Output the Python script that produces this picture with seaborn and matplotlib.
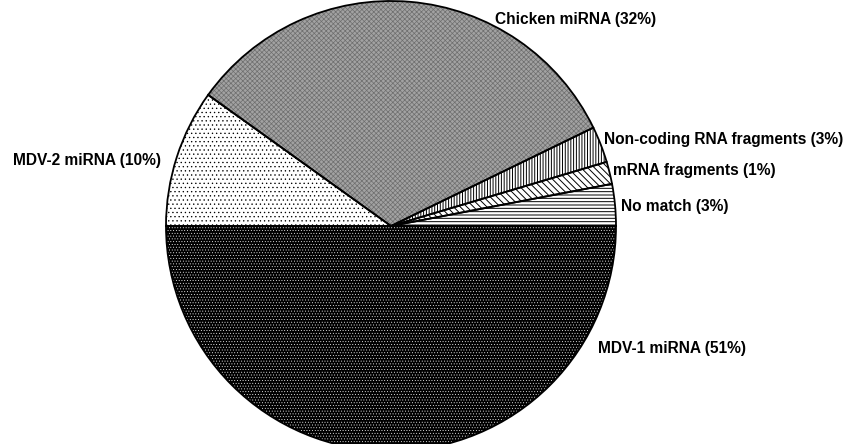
import numpy as np
import matplotlib
matplotlib.use("Agg")
import matplotlib.pyplot as plt
import seaborn as sns

# data (slice shares, counter-clockwise from 3 o'clock)
categories = ["No match", "mRNA fragments", "Non-coding RNA fragments",
              "Chicken miRNA", "MDV-2 miRNA", "MDV-1 miRNA"]
shares = [3.0, 1.6, 2.6, 32.9, 9.9, 50.0]
label_pct = [3, 1, 3, 32, 10, 51]

# styles for each slice
faces = ["white", "white", "white", "#a2a2a2", "white", "black"]
hatch_colors = ["black", "black", "black", "#6e6e6e", "black", "white"]
hatches = ["-----", "\\\\\\\\\\", "||||||", "xxxxxxx", "....", "......"]
hatch_lw = [0.7, 0.7, 0.7, 0.5, 0.45, 0.3]

# label positions in pixels (left edge, vertical centre)
label_px = [(621, 207), (613, 170), (604, 140), (495, 20), (13, 160), (598, 348)]

sns.set_theme(style="white")
plt.rcParams["font.family"] = ["Liberation Sans", "DejaVu Sans"]
plt.rcParams["hatch.linewidth"] = 0.7

W, H = 846, 444
cx, cy, R = 391, 226, 225

fig = plt.figure(figsize=(W / 100, H / 100), dpi=100)
ax = fig.add_axes([0, 0, 1, 1])

# filled + hatched wedges
wedges, _ = ax.pie(shares, startangle=0, counterclock=True, radius=1,
                   colors=faces, wedgeprops=dict(linewidth=0))
for w, hc, h, lw in zip(wedges, hatch_colors, hatches, hatch_lw):
    w.set_edgecolor(hc)
    w.set_hatch(h)
    w.set_linewidth(0)
    if hasattr(w, "set_hatch_linewidth"):
        w.set_hatch_linewidth(lw)

# outlines on top
ax.pie(shares, startangle=0, counterclock=True, radius=1,
       wedgeprops=dict(fill=False, edgecolor="black", linewidth=1.3))

ax.set_xlim(-cx / R, (W - cx) / R)
ax.set_ylim(-(H - cy) / R, cy / R)
ax.set_aspect("equal", adjustable="box")
ax.axis("off")

for name, pct, (px, py) in zip(categories, label_pct, label_px):
    ax.text((px - cx) / R, (cy - py) / R, f"{name} ({pct}%)",
            ha="left", va="center", fontsize=11.2, fontweight="bold", color="black")

fig.savefig("out.png", dpi=100, facecolor="white")
